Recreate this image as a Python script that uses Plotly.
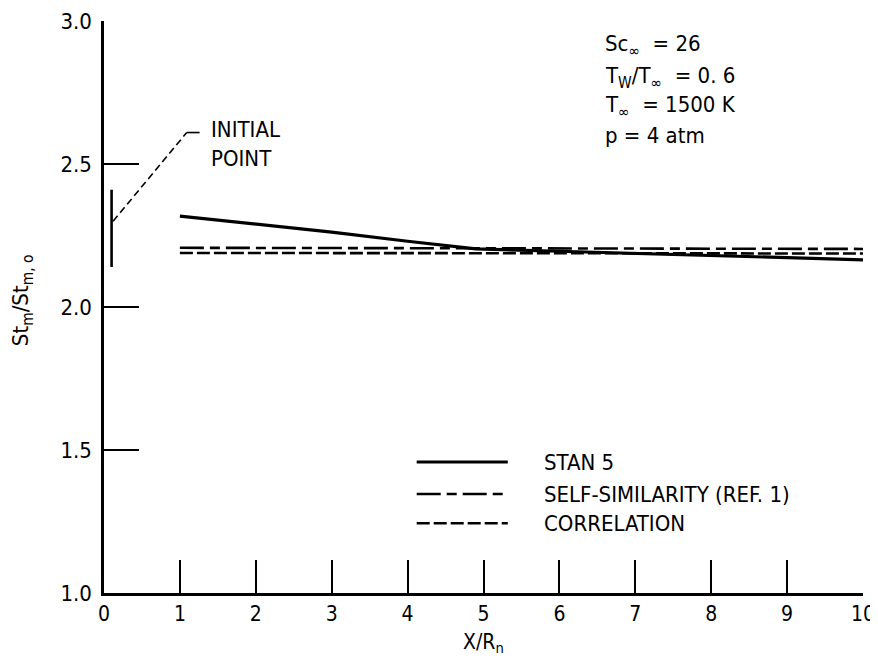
import plotly.graph_objects as go

# ---- data ----
stan5_x = [1, 2, 3, 4, 4.9, 6, 7, 8, 9, 10]
stan5_y = [2.318, 2.29, 2.262, 2.23, 2.203, 2.195, 2.188, 2.181, 2.174, 2.165]
selfsim_x = [1, 10]
selfsim_y = [2.207, 2.203]
corr_x = [1, 10]
corr_y = [2.189, 2.187]
initial_x = [0.1, 0.1]
initial_y = [2.14, 2.41]

x_ticks = list(range(0, 11))
y_ticks = [1.0, 1.5, 2.0, 2.5, 3.0]
y_tick_text = ["1.0", "1.5", "2.0", "2.5", "3.0"]

param_lines = ["Sc<sub>∞</sub>  = 26", "T<sub>W</sub>/T<sub>∞</sub>  = 0. 6",
               "T<sub>∞</sub>  = 1500 K", "p = 4 atm"]

FONT = "DejaVu Sans Condensed"
SELF_DASH = "24px,6px,10px,6px"
CORR_DASH = "13px,4px"
TXT = 22

fig = go.Figure()
fig.add_trace(go.Scatter(x=stan5_x, y=stan5_y, mode="lines",
                         line=dict(color="black", width=3.2), showlegend=False))
fig.add_trace(go.Scatter(x=selfsim_x, y=selfsim_y, mode="lines",
                         line=dict(color="black", width=2.6, dash=SELF_DASH), showlegend=False))
fig.add_trace(go.Scatter(x=corr_x, y=corr_y, mode="lines",
                         line=dict(color="black", width=2.6, dash=CORR_DASH), showlegend=False))
fig.add_trace(go.Scatter(x=initial_x, y=initial_y, mode="lines",
                         line=dict(color="black", width=2.6), showlegend=False))

# leader line to "INITIAL POINT"
fig.add_shape(type="line", xref="x", yref="y", x0=0.12, y0=2.30, x1=1.09, y1=2.61,
              line=dict(color="black", width=1.6, dash="7px,4px"))
fig.add_shape(type="line", xref="x", yref="y", x0=1.09, y0=2.61, x1=1.26, y1=2.61,
              line=dict(color="black", width=1.6))
fig.add_annotation(x=1.38, y=2.61, xref="x", yref="y", text="INITIAL<br>POINT",
                   showarrow=False, xanchor="left", yanchor="top", align="left",
                   font=dict(family=FONT, size=TXT, color="black"), yshift=18)

# parameter block
param_y = [0.958, 0.902, 0.850, 0.799]
for t, py in zip(param_lines, param_y):
    fig.add_annotation(x=0.657, y=py, xref="paper", yref="paper", text=t,
                       showarrow=False, xanchor="left", yanchor="middle", align="left",
                       font=dict(family=FONT, size=TXT, color="black"))

# legend (manual)
leg = [("STAN 5", None, 3.2), ("SELF-SIMILARITY (REF. 1)", SELF_DASH, 2.6), ("CORRELATION", CORR_DASH, 2.6)]
leg_y = [0.229, 0.173, 0.122]
for (label, dash, w), ly in zip(leg, leg_y):
    ln = dict(color="black", width=w)
    if dash:
        ln["dash"] = dash
    fig.add_shape(type="line", xref="paper", yref="paper", x0=0.412, x1=0.532, y0=ly, y1=ly, line=ln)
    fig.add_annotation(x=0.577, y=ly, xref="paper", yref="paper", text=label, showarrow=False,
                       xanchor="left", yanchor="middle", font=dict(family=FONT, size=TXT, color="black"))

# axis titles
fig.add_annotation(x=-0.108, y=0.512, xref="paper", yref="paper", textangle=-90,
                   xanchor="center", yanchor="middle",
                   text="St<sub>m</sub>/St<sub>m, o</sub>", showarrow=False,
                   font=dict(family=FONT, size=TXT, color="black"))
fig.add_annotation(x=0.5, y=-0.088, xref="paper", yref="paper",
                   xanchor="center", yanchor="middle",
                   text="X/R<sub>n</sub>", showarrow=False,
                   font=dict(family=FONT, size=21, color="black"))

fig.update_layout(
    width=878, height=658,
    margin=dict(l=96, r=23, t=13, b=73),
    plot_bgcolor="white", paper_bgcolor="white",
    font=dict(family=FONT, size=TXT, color="black"),
    showlegend=False,
)
fig.update_xaxes(range=[0, 10], tickvals=x_ticks, ticks="inside", ticklen=33, tickwidth=2,
                 tickcolor="black", showline=True, linecolor="black", linewidth=2.5,
                 showgrid=False, zeroline=False, automargin=False, tickfont=dict(family=FONT, size=21))
fig.update_yaxes(range=[1, 3], tickvals=y_ticks, ticktext=y_tick_text, ticks="inside", ticklen=35,
                 tickwidth=2, tickcolor="black", showline=True, linecolor="black", linewidth=2.5,
                 showgrid=False, zeroline=False, automargin=False, ticklabelstandoff=5,
                 tickfont=dict(family=FONT, size=TXT))

fig.write_html("out.html")
